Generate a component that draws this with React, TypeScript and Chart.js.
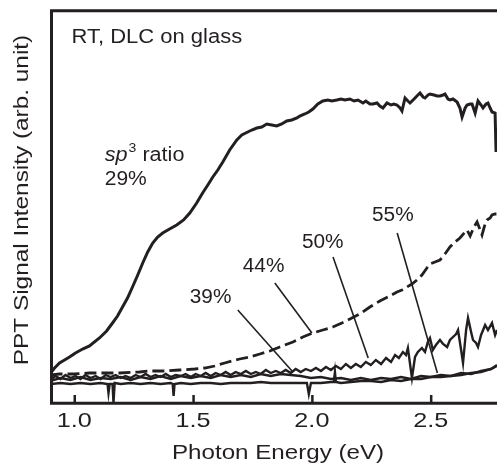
import { useEffect, useRef } from "react";
import { Chart, registerables } from "chart.js";

Chart.register(...registerables);

// ---------------- data (Photon energy in eV, PPT signal in arb. unit) ----------------
const tickValues = [1.0, 1.5, 2.0, 2.5];
const tickLabels = ["1.0", "1.5", "2.0", "2.5"];

const energy29 = [0.898, 0.915, 0.936, 0.957, 0.978, 1.003, 1.033, 1.062, 1.104, 1.134, 1.159, 1.18, 1.201, 1.222, 1.243, 1.265, 1.286, 1.307, 1.328, 1.349, 1.37, 1.399, 1.429, 1.458, 1.484, 1.513, 1.538, 1.56, 1.581, 1.602, 1.623, 1.652, 1.682, 1.703, 1.728, 1.745, 1.766, 1.787, 1.808, 1.829, 1.85, 1.871, 1.892, 1.913, 1.935, 1.947, 1.968, 1.985, 2.002, 2.023, 2.044, 2.065, 2.082, 2.103, 2.12, 2.137, 2.158, 2.175, 2.192, 2.213, 2.225, 2.242, 2.255, 2.272, 2.284, 2.297, 2.314, 2.331, 2.343, 2.356, 2.369, 2.377, 2.39, 2.402, 2.411, 2.428, 2.44, 2.453, 2.466, 2.474, 2.487, 2.495, 2.512, 2.525, 2.537, 2.55, 2.558, 2.571, 2.579, 2.592, 2.609, 2.621, 2.63, 2.643, 2.651, 2.664, 2.672, 2.685, 2.697, 2.71, 2.718, 2.731, 2.739, 2.748, 2.756, 2.769, 2.773];
const signal29 = [30, 35, 40, 43, 46, 50, 54, 57, 65, 72, 80, 87, 96, 105, 116, 128, 140, 151, 160, 166, 170, 174, 178, 183, 190, 200, 210, 218, 226, 233, 241, 253, 263, 268, 271, 273, 275, 276, 279, 278, 277, 279, 282, 283, 285, 287, 289, 291, 294, 299, 302, 303, 302, 303, 304, 303, 304, 302, 303, 300, 302, 299, 299, 300, 297, 295, 300, 298, 299, 298, 295, 292, 305, 302, 300, 304, 307, 310, 306, 305, 308, 309, 308, 307, 307, 308, 309, 304, 303, 304, 301, 295, 286, 295, 298, 299, 299, 290, 302, 298, 295, 299, 300, 295, 291, 290, 251];

const energy44 = [0.898, 0.936, 0.999, 1.062, 1.104, 1.189, 1.273, 1.315, 1.378, 1.441, 1.505, 1.547, 1.589, 1.631, 1.661, 1.694, 1.736, 1.779, 1.821, 1.863, 1.918, 1.96, 2.002, 2.044, 2.086, 2.124, 2.158, 2.2, 2.242, 2.284, 2.326, 2.356, 2.377, 2.398, 2.419, 2.44, 2.461, 2.482, 2.495, 2.516, 2.537, 2.558, 2.579, 2.6, 2.621, 2.643, 2.651, 2.664, 2.68, 2.693, 2.706, 2.714, 2.727, 2.735, 2.748, 2.756, 2.769, 2.777];
const signal44 = [28, 29, 29, 30, 30, 30, 31, 32, 32, 33, 34, 35, 37, 40, 42, 44, 46, 49, 52, 56, 61, 66, 70, 73, 76, 80, 84, 89, 96, 102, 107, 111, 113, 116, 119, 123, 128, 135, 139, 141, 143, 149, 156, 161, 165, 171, 173, 167, 176, 181, 173, 168, 179, 183, 185, 188, 189, 189];

const energy50 = [0.898, 0.919, 0.94, 0.961, 0.982, 1.003, 1.024, 1.045, 1.066, 1.088, 1.109, 1.13, 1.151, 1.172, 1.193, 1.214, 1.235, 1.256, 1.277, 1.298, 1.319, 1.34, 1.361, 1.383, 1.404, 1.425, 1.446, 1.467, 1.488, 1.509, 1.53, 1.551, 1.572, 1.593, 1.614, 1.635, 1.656, 1.677, 1.699, 1.72, 1.741, 1.762, 1.783, 1.804, 1.825, 1.846, 1.867, 1.888, 1.909, 1.93, 1.951, 1.972, 1.994, 2.015, 2.036, 2.057, 2.078, 2.099, 2.12, 2.141, 2.162, 2.183, 2.204, 2.225, 2.246, 2.267, 2.289, 2.31, 2.331, 2.348, 2.364, 2.381, 2.394, 2.402, 2.419, 2.432, 2.444, 2.461, 2.474, 2.486, 2.495, 2.507, 2.52, 2.537, 2.55, 2.567, 2.579, 2.592, 2.605, 2.613, 2.626, 2.634, 2.647, 2.655, 2.668, 2.676, 2.689, 2.697, 2.71, 2.727, 2.739, 2.756, 2.769, 2.777];
const signal50 = [23, 27, 24, 28, 25, 27, 24, 28, 25, 27, 24, 28, 26, 28, 25, 27, 25, 28, 26, 29, 26, 28, 26, 29, 26, 28, 27, 29, 26, 29, 27, 30, 27, 30, 28, 31, 28, 31, 29, 32, 29, 31, 29, 33, 30, 32, 30, 33, 30, 34, 31, 34, 32, 35, 32, 36, 33, 37, 34, 39, 35, 39, 36, 41, 38, 43, 39, 45, 41, 48, 45, 51, 48, 55, 25, 46, 51, 55, 51, 61, 65, 53, 58, 63, 59, 56, 63, 66, 69, 73, 53, 40, 73, 85, 71, 63, 60, 56, 68, 78, 73, 80, 68, 73];

const energy39 = [0.898, 0.94, 0.982, 1.024, 1.066, 1.109, 1.151, 1.193, 1.235, 1.277, 1.319, 1.361, 1.404, 1.446, 1.488, 1.53, 1.572, 1.614, 1.656, 1.699, 1.741, 1.783, 1.825, 1.867, 1.909, 1.951, 1.994, 2.036, 2.078, 2.12, 2.162, 2.204, 2.246, 2.289, 2.331, 2.373, 2.415, 2.457, 2.499, 2.541, 2.583, 2.626, 2.668, 2.71, 2.752, 2.777];
const signal39 = [22, 25, 23, 26, 23, 25, 24, 26, 23, 26, 24, 27, 24, 27, 25, 27, 25, 28, 26, 28, 26, 29, 27, 29, 28, 27, 25, 26, 24, 25, 23, 25, 23, 25, 24, 26, 24, 27, 26, 28, 27, 30, 29, 32, 34, 37];

const energy55 = [0.898, 0.94, 0.982, 1.024, 1.066, 1.109, 1.138, 1.142, 1.147, 1.159, 1.163, 1.168, 1.193, 1.235, 1.277, 1.319, 1.361, 1.404, 1.412, 1.416, 1.42, 1.446, 1.488, 1.53, 1.572, 1.614, 1.656, 1.699, 1.741, 1.783, 1.825, 1.867, 1.909, 1.951, 1.977, 1.985, 1.994, 2.036, 2.078, 2.09, 2.095, 2.099, 2.12, 2.162, 2.204, 2.246, 2.289, 2.331, 2.373, 2.415, 2.457, 2.499, 2.541, 2.583, 2.626, 2.668, 2.71, 2.752, 2.777];
const signal55 = [19, 20, 19, 20, 19, 20, 19, 10, 19, 19, 0, 20, 19, 20, 19, 20, 19, 20, 19, 7, 19, 20, 19, 20, 20, 19, 20, 20, 20, 21, 20, 20, 20, 20, 20, 9, 20, 20, 21, 21, 31, 21, 20, 21, 22, 22, 21, 23, 22, 24, 24, 26, 26, 27, 28, 30, 31, 34, 38];

// label texts and pointer lines (energy, signal)
const ratioLabels = ["39%", "44%", "50%", "55%"];
const pointerStartE = [1.686, 1.842, 2.087, 2.357];
const pointerStartS = [93, 120, 146, 170];
const pointerEndE = [1.918, 1.998, 2.235, 2.526];
const pointerEndS = [31, 70, 45, 30];

// ---------------- annotation layout ----------------
const labelAnchors = [
  { e: 1.484, s: 100 },
  { e: 1.707, s: 131 },
  { e: 1.956, s: 155 },
  { e: 2.251, s: 182 },
];
const FONT = "'Liberation Sans', Arial, Helvetica, sans-serif";
const INK = "#231f20";

const pts = (xs: number[], ys: number[]) => xs.map((x, i) => ({ x, y: ys[i] }));

function drawText(
  ctx: CanvasRenderingContext2D,
  text: string,
  x: number,
  y: number,
  font: string,
  sx: number,
  align: CanvasTextAlign = "left"
) {
  ctx.save();
  ctx.translate(x, y);
  ctx.scale(sx, 1);
  ctx.font = font;
  ctx.textAlign = align;
  ctx.textBaseline = "alphabetic";
  ctx.fillText(text, 0, 0);
  ctx.restore();
}

export default function App() {
  const ref = useRef<HTMLCanvasElement | null>(null);

  useEffect(() => {
    document.body.style.margin = "0";
    const canvas = ref.current;
    if (!canvas) return;

    const decor = {
      id: "decor",
      afterDraw(chart: any) {
        const { ctx, chartArea: ca, scales } = chart;
        const xs = scales.x;
        const ys = scales.y;
        ctx.save();
        // frame
        ctx.strokeStyle = INK;
        ctx.lineWidth = 3;
        ctx.lineCap = "butt";
        ctx.beginPath();
        ctx.moveTo(ca.left + 0.5, ca.top - 1.5);
        ctx.lineTo(ca.left + 0.5, ca.bottom + 1.5);
        ctx.moveTo(ca.left - 1, ca.top - 0.3);
        ctx.lineTo(ca.right, ca.top - 0.3);
        ctx.moveTo(ca.left - 1, ca.bottom + 0.3);
        ctx.lineTo(ca.right, ca.bottom + 0.3);
        ctx.stroke();
        // inward ticks
        ctx.lineWidth = 2.5;
        ctx.beginPath();
        for (const t of tickValues) {
          const px = xs.getPixelForValue(t);
          ctx.moveTo(px, ca.bottom);
          ctx.lineTo(px, ca.bottom - 8);
        }
        ctx.stroke();

        ctx.fillStyle = INK;
        // tick labels
        tickValues.forEach((t, i) => {
          drawText(ctx, tickLabels[i], xs.getPixelForValue(t) - 0.5, ca.bottom + 24, `21px ${FONT}`, 1.2, "center");
        });
        // x title
        drawText(ctx, "Photon Energy (eV)", (ca.left + ca.right) / 2 + 4, ca.bottom + 56, `21px ${FONT}`, 1.15, "center");

        // header
        drawText(ctx, "RT, DLC on glass", xs.getPixelForValue(0.986), ys.getPixelForValue(360), `20px ${FONT}`, 1.1);
        // sp3 ratio
        let x = xs.getPixelForValue(1.126);
        const yb = ys.getPixelForValue(242);
        const sx = 1.08;
        ctx.font = `italic 20px ${FONT}`;
        drawText(ctx, "sp", x, yb, `italic 20px ${FONT}`, sx);
        x += (ctx.measureText("sp").width + 1) * sx;
        ctx.font = `13px ${FONT}`;
        drawText(ctx, "3", x, yb - 9, `13px ${FONT}`, sx);
        x += ctx.measureText("3").width * sx;
        drawText(ctx, " ratio", x, yb, `20px ${FONT}`, sx);
        drawText(ctx, "29%", xs.getPixelForValue(1.126), ys.getPixelForValue(218), `20px ${FONT}`, 1.05);
        // ratio labels
        ratioLabels.forEach((t, i) => {
          drawText(ctx, t, xs.getPixelForValue(labelAnchors[i].e), ys.getPixelForValue(labelAnchors[i].s), `20px ${FONT}`, 1.04);
        });
        // y title
        ctx.translate(28, (ca.top + ca.bottom) / 2 - 7);
        ctx.rotate(-Math.PI / 2);
        drawText(ctx, "PPT Signal Intensity (arb. unit)", 0, 0, `21px ${FONT}`, 1.16, "center");
        ctx.restore();
      },
    };

    const series = (xs: number[], ys: number[], extra: any = {}) => ({
      data: pts(xs, ys),
      borderColor: INK,
      borderWidth: 2.5,
      pointRadius: 0,
      tension: 0,
      fill: false,
      ...extra,
    });

    const pointerSets = ratioLabels.map((_, i) => ({
      data: [
        { x: pointerStartE[i], y: pointerStartS[i] },
        { x: pointerEndE[i], y: pointerEndS[i] },
      ],
      borderColor: INK,
      borderWidth: 1.6,
      pointRadius: 0,
      fill: false,
    }));

    const chart = new Chart(canvas, {
      type: "line",
      data: {
        datasets: [
          series(energy55, signal55, { borderWidth: 2.4 }),
          series(energy39, signal39, { borderWidth: 2.4 }),
          series(energy50, signal50, { borderWidth: 2.4 }),
          series(energy44, signal44, { borderWidth: 2.8, borderDash: [12, 5] }),
          series(energy29, signal29, { borderWidth: 3 }),
          ...pointerSets,
        ] as any,
      },
      options: {
        animation: false,
        responsive: false,
        maintainAspectRatio: false,
        layout: { padding: { top: 11, right: 0, bottom: 0, left: 0 } },
        plugins: { legend: { display: false }, tooltip: { enabled: false } },
        scales: {
          x: {
            type: "linear",
            min: 0.9,
            max: 2.777,
            afterFit: (s: any) => {
              s.height = 60;
            },
            afterBuildTicks: (s: any) => {
              s.ticks = tickValues.map((v) => ({ value: v }));
            },
            grid: { display: false, drawTicks: false },
            border: { display: false },
            ticks: { display: false },
            title: { display: false },
          },
          y: {
            type: "linear",
            min: 0,
            max: 392,
            afterFit: (s: any) => {
              s.width = 51;
            },
            grid: { display: false, drawTicks: false },
            border: { display: false },
            ticks: { display: false },
          },
        },
      },
      plugins: [decor],
    });
    return () => chart.destroy();
  }, []);

  return <canvas ref={ref} width={497} height={463} style={{ display: "block" }} />;
}
